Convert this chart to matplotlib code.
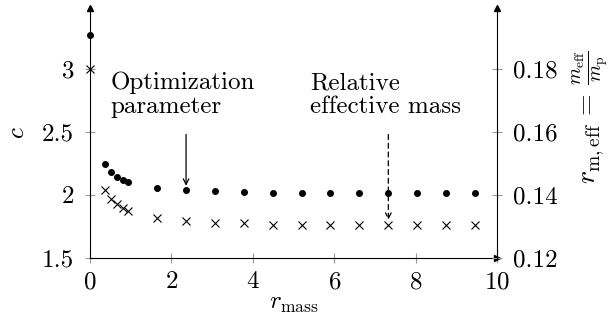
import matplotlib
matplotlib.use("Agg")
import matplotlib.pyplot as plt

plt.rcParams['font.family'] = 'serif'
plt.rcParams['font.serif'] = ['cmr10', 'DejaVu Serif']
plt.rcParams['mathtext.fontset'] = 'cm'
plt.rcParams['axes.formatter.use_mathtext'] = True

# data
r_mass = [0, 0.38, 0.52, 0.66, 0.80, 0.94, 1.65, 2.36, 3.07, 3.78,
          4.49, 5.20, 5.90, 6.62, 7.33, 8.04, 8.75, 9.47]
c_vals = [3.27, 2.246, 2.18, 2.145, 2.12, 2.10, 2.056, 2.035, 2.027, 2.02,
          2.018, 2.018, 2.018, 2.017, 2.017, 2.017, 2.017, 2.017]
r_eff = [0.180, 0.1414, 0.1386, 0.1371, 0.1358, 0.1349, 0.1326, 0.1317, 0.1312, 0.1310,
         0.1304, 0.1304, 0.1303, 0.1303, 0.1303, 0.1303, 0.1303, 0.1303]

y_lo, y_hi = 1.5, 3.48
fs = 18

fig = plt.figure(figsize=(6.11, 3.26), dpi=100)
ax = fig.add_axes([0.1473, 0.2086, 0.8134 - 0.1473, 0.9755 - 0.2086])
ax2 = ax.twinx()

ax.plot(r_mass, c_vals, 'o', color='black', markersize=4, clip_on=False, zorder=5)
ax2.plot(r_mass, r_eff, 'x', color='black', markersize=6, markeredgewidth=0.8, clip_on=False, zorder=5)

ax.set_xlim(0, 10)
ax.set_ylim(y_lo, y_hi)
ax2.set_ylim(0.12 + (y_lo - 1.5) * 0.04, 0.12 + (y_hi - 1.5) * 0.04)

ax.set_xticks([0, 2, 4, 6, 8, 10])
ax.set_yticks([1.5, 2, 2.5, 3])
ax.set_yticklabels(['1.5', '2', '2.5', '3'])
ax2.set_yticks([0.12, 0.14, 0.16, 0.18])
ax2.set_yticklabels(['0.12', '0.14', '0.16', '0.18'])

for a in (ax, ax2):
    a.spines['top'].set_visible(False)
    a.tick_params(direction='inout', length=7, width=0.8, color='#999999',
                  labelsize=fs, pad=8)
ax.tick_params(axis='x', pad=6)
ax.spines['right'].set_visible(False)
ax2.spines['left'].set_visible(False)
ax2.spines['bottom'].set_visible(False)

# arrow heads on the axes
ax.plot([0], [1], marker='^', color='black', markersize=5, transform=ax.transAxes, clip_on=False)
ax.plot([1], [1], marker='^', color='black', markersize=5, transform=ax.transAxes, clip_on=False)
ax.plot([1], [0], marker='>', color='black', markersize=5, transform=ax.transAxes, clip_on=False)

ax.set_xlabel(r'$r_\mathrm{mass}$', fontsize=fs, labelpad=0)
ax.set_ylabel(r'$c$', fontsize=fs)
ax.yaxis.set_label_coords(-0.15, 0.5)
ax2.set_ylabel(r'$r_\mathrm{m,eff}\,=\,\frac{m_\mathrm{eff}}{m_\mathrm{p}}$', fontsize=20)
ax2.yaxis.set_label_coords(1.18, 0.565)

ax.annotate('', xy=(2.36, 2.05), xytext=(2.36, 2.5),
            arrowprops=dict(arrowstyle='->', color='black', lw=0.9))
ax.text(0.5, 2.79, 'Optimization\nparameter', fontsize=fs, va='center', ha='left', linespacing=1.1)
ax.annotate('', xy=(7.33, 1.78), xytext=(7.33, 2.5),
            arrowprops=dict(arrowstyle='->', color='black', lw=0.9, linestyle=(0, (4, 3))))
ax.text(5.4, 2.79, 'Relative\neffective mass', fontsize=fs, va='center', ha='left', linespacing=1.1)

fig.savefig('out.png', dpi=100)
